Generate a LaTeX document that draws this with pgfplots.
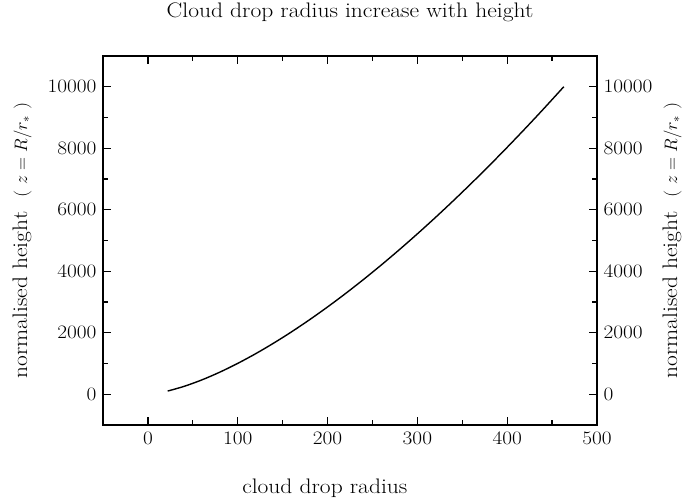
\RequirePackage{fix-cm}
\documentclass[border=0pt]{standalone}
\usepackage{fontspec}
\setmainfont{Latin Modern Roman}[FakeStretch=1.12]
\usepackage{pgfplots}
\pgfplotsset{compat=1.18}
\newcommand{\zlabel}{normalised height\ \ {\fontsize{18}{21}\selectfont( $z = R/r_{*}$ )}}
\begin{document}
\begin{tikzpicture}
\useasboundingbox (-103pt,-78pt) rectangle (581pt,425pt);
\pgfplotsset{
  common/.style={
    scale only axis, width=494pt, height=369pt,
    xmin=-50, xmax=500, ymin=-1000, ymax=11000,
    xtick={0,100,...,500}, ytick={0,2000,...,10000},
    minor xtick={-50,50,150,250,350,450},
    minor ytick={1000,3000,5000,7000,9000},
    tick align=inside,
    major tick length=8pt, minor tick length=5pt,
    every tick/.style={black, line width=1.2pt},
    axis line style={line width=1.4pt},
    tick label style={font=\fontsize{19}{22}\selectfont},
    label style={font=\fontsize{21}{25}\selectfont},
    scaled ticks=false,
    /pgf/number format/1000 sep={},
    /pgf/number format/assume math mode=true,
  }
}
\begin{axis}[common,
  xticklabel style={yshift=-3pt},
  yticklabel style={xshift=-3pt},
  title={Cloud drop radius increase with height},
  title style={font=\fontsize{21}{25}\selectfont, at={(axis description cs:0.5,1.068)}, anchor=south},
  xlabel={cloud drop radius},
  xlabel style={at={(axis description cs:0.449,-0.171)}, anchor=center},
  ylabel={\zlabel},
  ylabel style={at={(axis description cs:-0.164,0.5)}, anchor=center, rotate=0},
]
\addplot[black, line width=1.4pt, smooth] coordinates {
  (22,104) (40,254) (60,466) (80,718) (100,1004) (120,1319) (140,1663)
  (160,2031) (180,2424) (200,2839) (220,3275) (240,3732) (260,4208)
  (280,4703) (300,5216) (320,5746) (340,6293) (360,6856) (380,7435)
  (400,8030) (420,8640) (440,9264) (463,10000)
};
\end{axis}
\begin{axis}[common,
  axis y line*=right, axis x line=none,
  yticklabel style={xshift=3pt},
  ylabel={\zlabel},
  ylabel style={at={(axis description cs:1.152,0.5)}, anchor=center},
]
\end{axis}
\end{tikzpicture}
\end{document}
